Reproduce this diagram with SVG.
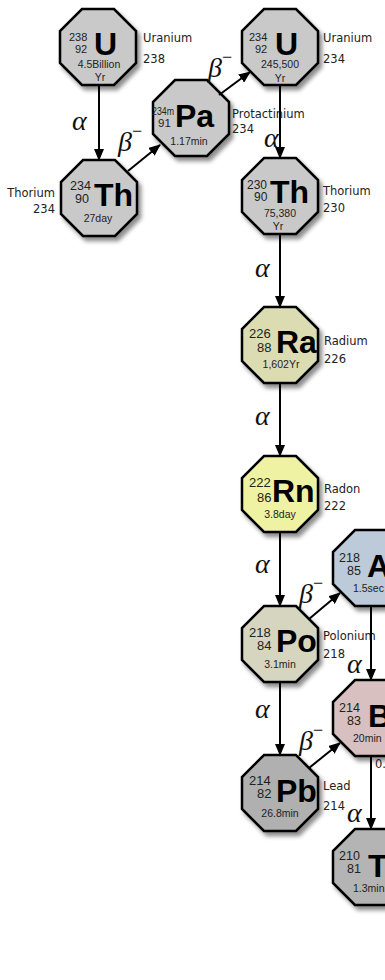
<svg xmlns="http://www.w3.org/2000/svg" width="385" height="980" viewBox="0 0 385 980">
<style>
.oct{stroke:#000;stroke-width:2.5;stroke-linejoin:miter}
.n{font-family:"Liberation Sans",Arial,sans-serif;fill:#222}
.sym{font-family:"Liberation Sans",Arial,sans-serif;font-weight:bold;fill:#000;font-size:32px}
.hl{font-family:"Liberation Sans",Arial,sans-serif;fill:#222;font-size:10.5px;text-anchor:middle}
.lab{font-family:"DejaVu Sans","Liberation Sans",sans-serif;fill:#222;font-size:11.5px}
.gr{font-family:"Liberation Serif","DejaVu Serif",serif;font-style:italic;font-size:28px;fill:#111}
.con line{stroke:#000;stroke-width:2;marker-end:url(#ah)}
</style>
<defs>
<filter id="sh" x="-20%" y="-20%" width="150%" height="150%">
<feDropShadow dx="3" dy="4" stdDeviation="2.2" flood-color="#000" flood-opacity="0.45"/>
</filter>
<polygon id="oc" points="-16,-38 16,-38 38,-16 38,16 16,38 -16,38 -38,16 -38,-16"/>
<marker id="ah" markerUnits="userSpaceOnUse" markerWidth="12" markerHeight="10" refX="11" refY="5" orient="auto" viewBox="0 0 12 10">
<path d="M0,0 L12,5 L0,10 z" fill="#000"/>
</marker>
</defs>
<rect width="385" height="980" fill="#fff"/>

<g id="U238">
<use href="#oc" x="98" y="47" class="oct" fill="#c9c9c9" filter="url(#sh)"/>
<text class="n" x="69" y="41" font-size="11">238</text>
<text class="n" x="75" y="53" font-size="11">92</text>
<text class="sym" x="94" y="55">U</text>
<text class="hl" x="99" y="68">4.5Billion</text>
<text class="hl" x="100" y="81" font-size="10">Yr</text>
<text class="lab" x="143" y="42">Uranium</text>
<text class="lab" x="143" y="63">238</text>
</g>

<g id="Th234">
<use href="#oc" x="99" y="198" class="oct" fill="#c9c9c9" filter="url(#sh)"/>
<text class="n" x="70" y="190" font-size="12.5">234</text>
<text class="n" x="75" y="203" font-size="12.5">90</text>
<text class="sym" x="94" y="206" font-size="33">Th</text>
<text class="hl" x="98" y="222">27day</text>
<text class="lab" x="55" y="197" text-anchor="end">Thorium</text>
<text class="lab" x="55" y="213" text-anchor="end">234</text>
</g>

<g id="Pa234m">
<use href="#oc" x="191" y="118" class="oct" fill="#c9c9c9" filter="url(#sh)"/>
<text class="n" x="152" y="115" font-size="11" textLength="22" lengthAdjust="spacingAndGlyphs">234m</text>
<text class="n" x="158" y="127" font-size="11.5">91</text>
<text class="sym" x="175" y="127" font-size="33">Pa</text>
<text class="hl" x="189" y="145" font-size="11">1.17min</text>
<text class="lab" x="232" y="118">Protactinium</text>
<text class="lab" x="232" y="133">234</text>
</g>

<g id="U234">
<use href="#oc" x="280" y="47" class="oct" fill="#c9c9c9" filter="url(#sh)"/>
<text class="n" x="249" y="41" font-size="11">234</text>
<text class="n" x="255" y="53" font-size="11">92</text>
<text class="sym" x="275" y="55">U</text>
<text class="hl" x="280" y="68">245,500</text>
<text class="hl" x="280" y="82" font-size="10">Yr</text>
<text class="lab" x="323" y="42">Uranium</text>
<text class="lab" x="323" y="63">234</text>
</g>

<g id="Th230">
<use href="#oc" x="280" y="196" class="oct" fill="#c9c9c9" filter="url(#sh)"/>
<text class="n" x="247" y="189" font-size="12">230</text>
<text class="n" x="254" y="201" font-size="12">90</text>
<text class="sym" x="270" y="203">Th</text>
<text class="hl" x="280" y="217">75,380</text>
<text class="hl" x="278" y="230" font-size="10">Yr</text>
<text class="lab" x="323" y="195">Thorium</text>
<text class="lab" x="323" y="212">230</text>
</g>

<g id="Ra226">
<use href="#oc" x="280" y="345" class="oct" fill="#dcdcb2" filter="url(#sh)"/>
<text class="n" x="249" y="338" font-size="13">226</text>
<text class="n" x="257" y="352" font-size="13">88</text>
<text class="sym" x="276" y="353">Ra</text>
<text class="hl" x="281" y="368">1,602Yr</text>
<text class="lab" x="324" y="345">Radium</text>
<text class="lab" x="324" y="363">226</text>
</g>

<g id="Rn222">
<use href="#oc" x="280" y="494" class="oct" fill="#eef2a2" filter="url(#sh)"/>
<text class="n" x="249" y="487" font-size="13">222</text>
<text class="n" x="257" y="502" font-size="13">86</text>
<text class="sym" x="272" y="502">Rn</text>
<text class="hl" x="280" y="518">3.8day</text>
<text class="lab" x="324" y="493">Radon</text>
<text class="lab" x="324" y="510">222</text>
</g>

<g id="At218">
<use href="#oc" x="371" y="568" class="oct" fill="#bccada" filter="url(#sh)"/>
<text class="n" x="339" y="562" font-size="12.5">218</text>
<text class="n" x="347" y="575" font-size="12.5">85</text>
<text class="sym" x="367" y="577">A</text>
<text class="n" x="353" y="592" font-size="10.5">1.5sec</text>
</g>

<g id="Po218">
<use href="#oc" x="280" y="644" class="oct" fill="#d6d6c0" filter="url(#sh)"/>
<text class="n" x="249" y="637" font-size="13">218</text>
<text class="n" x="257" y="650" font-size="13">84</text>
<text class="sym" x="276" y="652">Po</text>
<text class="hl" x="280" y="668">3.1min</text>
<text class="lab" x="323" y="640">Polonium</text>
<text class="lab" x="323" y="658">218</text>
</g>

<g id="Bi214">
<use href="#oc" x="371" y="718" class="oct" fill="#d8c0c0" filter="url(#sh)"/>
<text class="n" x="339" y="712" font-size="12.5">214</text>
<text class="n" x="347" y="725" font-size="12.5">83</text>
<text class="sym" x="368" y="727">B</text>
<text class="n" x="353" y="742" font-size="10.5">20min</text>
<text class="lab" x="375" y="768" font-size="10.5">0.</text>
</g>

<g id="Pb214">
<use href="#oc" x="280" y="793" class="oct" fill="#b0b0b0" filter="url(#sh)"/>
<text class="n" x="249" y="785" font-size="13">214</text>
<text class="n" x="257" y="798" font-size="13">82</text>
<text class="sym" x="276" y="802">Pb</text>
<text class="hl" x="280" y="817">26.8min</text>
<text class="lab" x="323" y="790">Lead</text>
<text class="lab" x="323" y="810">214</text>
</g>

<g id="Tl210">
<use href="#oc" x="371" y="867" class="oct" fill="#b4b4b4" filter="url(#sh)"/>
<text class="n" x="339" y="860" font-size="12.5">210</text>
<text class="n" x="347" y="873" font-size="12.5">81</text>
<text class="sym" x="368" y="877">T</text>
<text class="n" x="353" y="892" font-size="10.5">1.3min</text>
</g>

<g id="connectors" class="con">
<line x1="99" y1="86" x2="99" y2="160"/>
<line x1="128" y1="171" x2="160" y2="145"/>
<line x1="219" y1="95" x2="250" y2="72"/>
<line x1="280" y1="86" x2="280" y2="158"/>
<line x1="280" y1="235" x2="280" y2="307"/>
<line x1="280" y1="384" x2="280" y2="456"/>
<line x1="280" y1="533" x2="280" y2="606"/>
<line x1="309" y1="619" x2="340" y2="593"/>
<line x1="371" y1="607" x2="371" y2="680"/>
<line x1="280" y1="683" x2="280" y2="755"/>
<line x1="309" y1="768" x2="340" y2="743"/>
<line x1="371" y1="757" x2="371" y2="829"/>
<text class="gr" x="72" y="130">α</text>
<text class="gr" x="118" y="151">β<tspan dy="-14" font-size="18" font-style="normal">−</tspan></text>
<text class="gr" x="208" y="77">β<tspan dy="-14" font-size="18" font-style="normal">−</tspan></text>
<text class="gr" x="264" y="147">α</text>
<text class="gr" x="255" y="277">α</text>
<text class="gr" x="255" y="425">α</text>
<text class="gr" x="255" y="573">α</text>
<text class="gr" x="299" y="603">β<tspan dy="-14" font-size="18" font-style="normal">−</tspan></text>
<text class="gr" x="347" y="673">α</text>
<text class="gr" x="255" y="718">α</text>
<text class="gr" x="299" y="750">β<tspan dy="-14" font-size="18" font-style="normal">−</tspan></text>
<text class="gr" x="347" y="822">α</text>
</g>
</svg>
